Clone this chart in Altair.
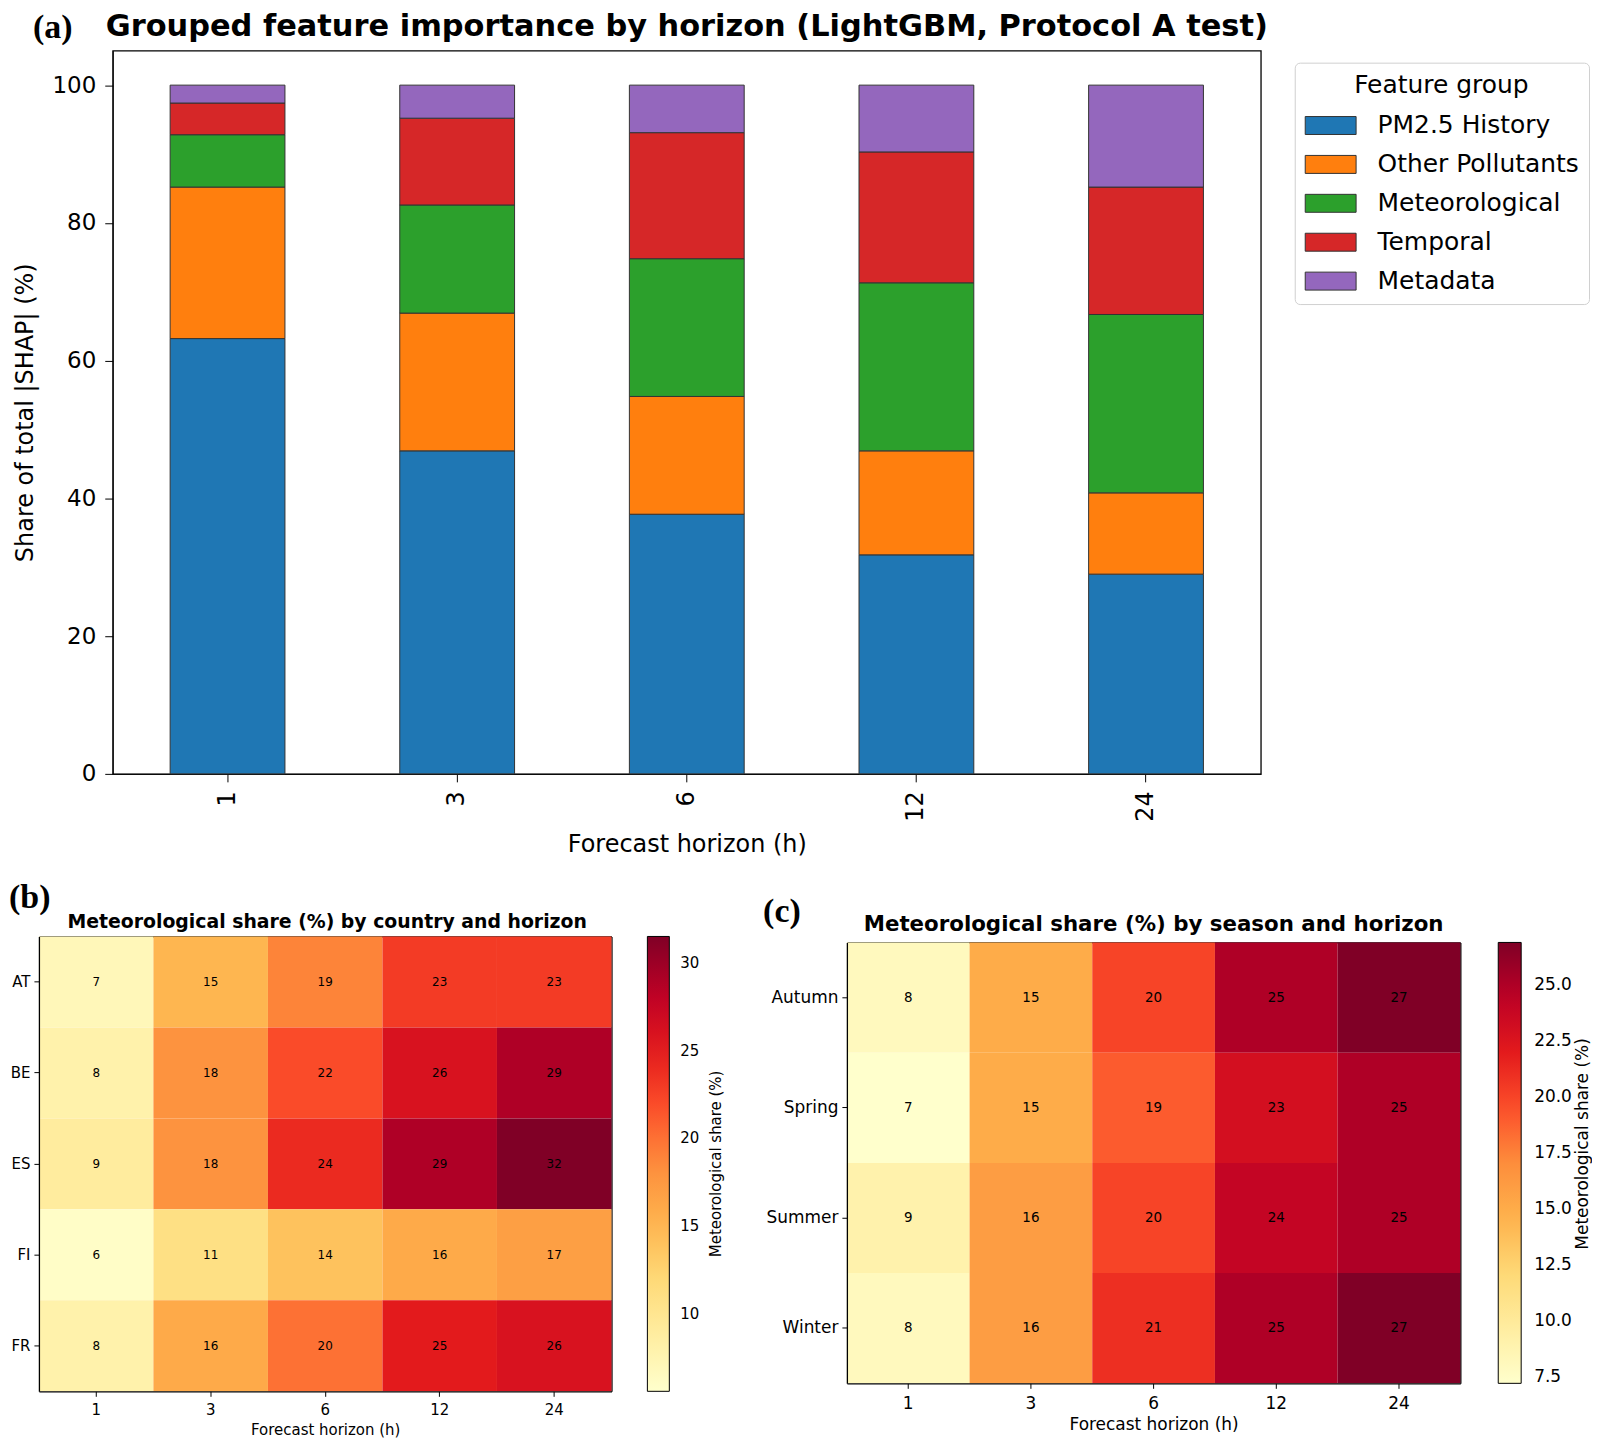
import altair as alt
import pandas as pd

# ---------------- data ----------------
horizons = ["1", "3", "6", "12", "24"]
groups = ["PM2.5 History", "Other Pollutants", "Meteorological", "Temporal", "Metadata"]
group_colors = ["#1f77b4", "#ff7f0e", "#2ca02c", "#d62728", "#9467bd"]
pm25_history = [63.2, 46.9, 37.7, 31.8, 29.0]
other_pollutants = [22.0, 20.0, 17.1, 15.1, 11.8]
meteorological = [7.6, 15.7, 20.0, 24.4, 25.9]
temporal = [4.6, 12.6, 18.3, 19.0, 18.5]
metadata = [2.6, 4.8, 6.9, 9.7, 14.8]

countries = ["AT", "BE", "ES", "FI", "FR"]
country_AT = [7, 15, 19, 23, 23]
country_BE = [8, 18, 22, 26, 29]
country_ES = [9, 18, 24, 29, 32]
country_FI = [6, 11, 14, 16, 17]
country_FR = [8, 16, 20, 25, 26]
country_range = [5.6, 31.5]
country_ticks = [10, 15, 20, 25, 30]

seasons = ["Autumn", "Spring", "Summer", "Winter"]
season_autumn = [8, 15, 20, 25, 27]
season_spring = [7, 15, 19, 23, 25]
season_summer = [9, 16, 20, 24, 25]
season_winter = [8, 16, 21, 25, 27]
season_range = [7.2, 26.9]
season_ticks = [7.5, 10.0, 12.5, 15.0, 17.5, 20.0, 22.5, 25.0]

panel_labels = ["(a)", "(b)", "(c)"]
titles = ["Grouped feature importance by horizon (LightGBM, Protocol A test)",
          "Meteorological share (%) by country and horizon",
          "Meteorological share (%) by season and horizon"]
colorbar_title = "Meteorological share (%)"
xtitle = "Forecast horizon (h)"

# matplotlib YlOrRd colour stops
ylorrd = ["#ffffcc", "#ffeda0", "#fed976", "#feb24c", "#fd8d3c",
          "#fc4e2a", "#e31a1c", "#bd0026", "#800026"]

FONT = "DejaVu Sans"
SERIF = "Liberation Serif"
FRAME_W = 1.3


def one_text(t):
    return pd.DataFrame({"t": [t]})


def stops(lo, hi, n):
    return [lo + (hi - lo) * i / (n - 1) for i in range(n)]


def label_mark(text, x, y, size=34):
    return alt.Chart(one_text(text)).mark_text(
        font=SERIF, fontSize=size, fontWeight="bold", align="left",
        baseline="alphabetic", color="black"
    ).encode(x=alt.value(x), y=alt.value(y), text="t:N")


def title_mark(text, x, y, size):
    return alt.Chart(one_text(text)).mark_text(
        font=FONT, fontSize=size, fontWeight="bold", align="center",
        baseline="alphabetic", color="black"
    ).encode(x=alt.value(x), y=alt.value(y), text="t:N")


def cbar_title_mark(text, x, y, size):
    return alt.Chart(one_text(text)).mark_text(
        font=FONT, fontSize=size, angle=270, align="center", baseline="middle",
        color="black"
    ).encode(x=alt.value(x), y=alt.value(y), text="t:N")


def frame_axis(orient, offset=0):
    return alt.Axis(orient=orient, labels=False, ticks=False, title=None,
                    domain=True, domainColor="black", domainWidth=FRAME_W, offset=offset)


# ---------------- panel (a) ----------------
W_A, H_A = 1151, 725
series = [pm25_history, other_pollutants, meteorological, temporal, metadata]
rows = []
for gi, (g, vals) in enumerate(zip(groups, series)):
    for h, v in zip(horizons, vals):
        rows.append({"horizon": h, "group": g, "gidx": gi, "value": v})
df_a = pd.DataFrame(rows)

bars = alt.Chart(df_a).mark_bar(stroke="#333333", strokeWidth=1).encode(
    x=alt.X("horizon:N", sort=horizons,
            scale=alt.Scale(paddingInner=0.5, paddingOuter=0.25),
            axis=alt.Axis(title=xtitle, labelAngle=270,
                          labelFontSize=24, titleFontSize=24, titleFontWeight="normal",
                          tickSize=8, titlePadding=11, labelPadding=9)),
    y=alt.Y("value:Q", stack="zero",
            scale=alt.Scale(domain=[0, 105], nice=False),
            axis=alt.Axis(title="Share of total |SHAP| (%)", values=[0, 20, 40, 60, 80, 100],
                          labelFontSize=23, titleFontSize=24, titleFontWeight="normal",
                          tickSize=8, titlePadding=15, labelPadding=9)),
    color=alt.Color("group:N", scale=alt.Scale(domain=groups, range=group_colors),
                    legend=alt.Legend(title="Feature group", orient="none",
                                      legendX=1185, legendY=12,
                                      titleFontSize=25, titleFontWeight="normal",
                                      titleAnchor="middle", titlePadding=2,
                                      labelFontSize=25, labelOffset=21,
                                      symbolType="M-1,-0.353H1V0.353H-1Z", symbolSize=2601,
                                      symbolStrokeColor="#333333", symbolStrokeWidth=1,
                                      symbolOpacity=1, rowPadding=0,
                                      padding=10, strokeColor="#d0d0d0", cornerRadius=5,
                                      fillColor="white", labelLimit=400)),
    order=alt.Order("gidx:Q", sort="ascending"),
)

top = alt.layer(
    bars,
    label_mark(panel_labels[0], -80, -13),
    title_mark(titles[0], W_A / 2, -15, 30.5),
).properties(width=W_A, height=H_A)

# ---------------- panel (b) ----------------
# heatmap drawn from -SHIFT_B to W_B inside its group so that it sits further left
SHIFT_B, W_B, H_B = 74, 500, 456
rows = []
for c, vals in zip(countries, [country_AT, country_BE, country_ES, country_FI, country_FR]):
    for h, v in zip(horizons, vals):
        rows.append({"horizon": h, "country": c, "value": v})
df_b = pd.DataFrame(rows)

xs_b = alt.Scale(range=[-SHIFT_B, W_B], paddingInner=0, paddingOuter=0)
ys_b = alt.Scale(paddingInner=0, paddingOuter=0)

rect_b = alt.Chart(df_b).mark_rect().encode(
    x=alt.X("horizon:N", sort=horizons, scale=xs_b,
            axis=alt.Axis(orient="bottom", title=xtitle, labelAngle=0, labelFontSize=15,
                          titleFontSize=15, titleFontWeight="normal", tickSize=5,
                          titlePadding=5, labelPadding=6, domainWidth=FRAME_W)),
    y=alt.Y("country:N", sort=countries, scale=ys_b,
            axis=alt.Axis(orient="left", title=None, labelFontSize=15, tickSize=5,
                          labelPadding=4, offset=SHIFT_B, domainWidth=FRAME_W)),
    color=alt.Color("value:Q",
                    scale=alt.Scale(domain=stops(country_range[0], country_range[1], len(ylorrd)),
                                    range=ylorrd, interpolate="rgb", clamp=True),
                    legend=alt.Legend(title=None, orient="none", legendX=W_B + 36, legendY=0,
                                      direction="vertical", gradientLength=H_B,
                                      gradientThickness=22, values=country_ticks,
                                      labelFontSize=15,
                                      gradientStrokeColor="black", gradientStrokeWidth=1,
                                      labelOffset=11, padding=0)),
)
text_b = alt.Chart(df_b).mark_text(font=FONT, fontSize=12, color="black").encode(
    x=alt.X("horizon:N", sort=horizons, scale=xs_b, axis=frame_axis("top")),
    y=alt.Y("country:N", sort=countries, scale=ys_b, axis=frame_axis("right")),
    text=alt.Text("value:Q", format=".0f"),
)

panel_b = alt.layer(
    rect_b, text_b,
    label_mark(panel_labels[1], -SHIFT_B - 30, -29),
    title_mark(titles[1], -SHIFT_B + 289, -8, 18.9),
    cbar_title_mark(colorbar_title, 605, H_B / 2, 15),
).resolve_axis(x="independent", y="independent").properties(
    width=W_B, height=H_B, view=alt.ViewBackground(stroke="transparent"))

# ---------------- panel (c) ----------------
# heatmap drawn from DROP_C to H_C inside its group so that it sits a little lower
W_C, H_C, DROP_C = 615, 448, 6
rows = []
for s, vals in zip(seasons, [season_autumn, season_spring, season_summer, season_winter]):
    for h, v in zip(horizons, vals):
        rows.append({"horizon": h, "season": s, "value": v})
df_c = pd.DataFrame(rows)

xs_c = alt.Scale(paddingInner=0, paddingOuter=0)
ys_c = alt.Scale(range=[DROP_C, H_C], paddingInner=0, paddingOuter=0)

rect_c = alt.Chart(df_c).mark_rect().encode(
    x=alt.X("horizon:N", sort=horizons, scale=xs_c,
            axis=alt.Axis(orient="bottom", title=xtitle, labelAngle=0, labelFontSize=17,
                          titleFontSize=17, titleFontWeight="normal", tickSize=5,
                          titlePadding=5, labelPadding=7, domainWidth=FRAME_W)),
    y=alt.Y("season:N", sort=seasons, scale=ys_c,
            axis=alt.Axis(orient="left", title=None, labelFontSize=17, tickSize=5,
                          labelPadding=4, domainWidth=FRAME_W)),
    color=alt.Color("value:Q",
                    scale=alt.Scale(domain=stops(season_range[0], season_range[1], len(ylorrd)),
                                    range=ylorrd, interpolate="rgb", clamp=True),
                    legend=alt.Legend(title=None, orient="none", legendX=W_C + 38, legendY=DROP_C,
                                      direction="vertical", gradientLength=H_C - DROP_C,
                                      gradientThickness=23, values=season_ticks, format=".1f",
                                      labelFontSize=17,
                                      gradientStrokeColor="black", gradientStrokeWidth=1,
                                      labelOffset=13, padding=0)),
)
text_c = alt.Chart(df_c).mark_text(font=FONT, fontSize=13.5, color="black").encode(
    x=alt.X("horizon:N", sort=horizons, scale=xs_c, axis=frame_axis("top", -DROP_C)),
    y=alt.Y("season:N", sort=seasons, scale=ys_c, axis=frame_axis("right")),
    text=alt.Text("value:Q", format=".0f"),
)

panel_c = alt.layer(
    rect_c, text_c,
    label_mark(panel_labels[2], -84, DROP_C - 20),
    title_mark(titles[2], W_C / 2, DROP_C - 11, 21.4),
    cbar_title_mark(colorbar_title, 738, DROP_C + 202, 17),
).resolve_axis(x="independent", y="independent").properties(
    width=W_C, height=H_C, view=alt.ViewBackground(stroke="transparent"))

bottom = alt.hconcat(panel_b, panel_c, spacing=37).resolve_scale(color="independent")

chart = alt.vconcat(top, bottom, spacing=22).properties(
    padding=0
).configure(
    font=FONT
).configure_view(
    stroke="black", strokeWidth=FRAME_W
).configure_axis(
    grid=False, domainColor="black", tickColor="black", labelColor="black",
    titleColor="black", labelFont=FONT, titleFont=FONT
).configure_legend(
    labelFont=FONT, titleFont=FONT, labelColor="black", titleColor="black"
)

chart.save("out.html", embed_options={"renderer": "svg", "actions": False})
